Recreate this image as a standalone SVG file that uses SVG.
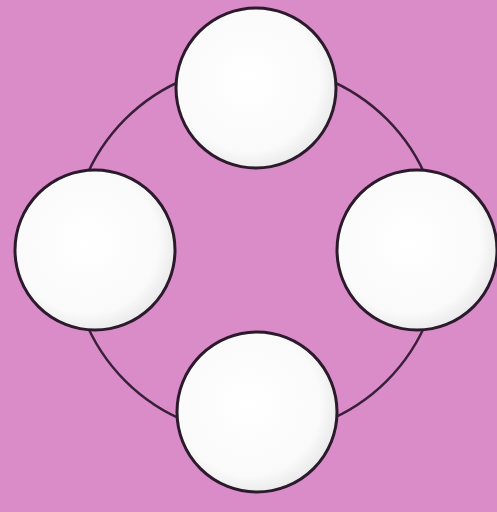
<svg xmlns="http://www.w3.org/2000/svg" width="497" height="512" viewBox="0 0 497 512">
<defs>
<radialGradient id="g" cx="0.45" cy="0.45" r="0.6">
<stop offset="0" stop-color="#ffffff"/>
<stop offset="0.75" stop-color="#fafafa"/>
<stop offset="1" stop-color="#e6e4e6"/>
</radialGradient>
<style>
.n{fill:url(#g);stroke:#2b1a2c;stroke-width:3}
.c{fill:none;stroke:#3a1f3a;stroke-width:2.5}
</style>
</defs>
<rect width="497" height="512" fill="#da8cc9"/>
<g id="connectors">
<circle class="c" cx="256" cy="250" r="185"/>
</g>
<g id="top"><circle class="n" cx="256" cy="88" r="80"/></g>
<g id="left"><circle class="n" cx="95" cy="250" r="80"/></g>
<g id="right"><circle class="n" cx="417" cy="250" r="80"/></g>
<g id="bottom"><circle class="n" cx="257" cy="412" r="80"/></g>
</svg>
